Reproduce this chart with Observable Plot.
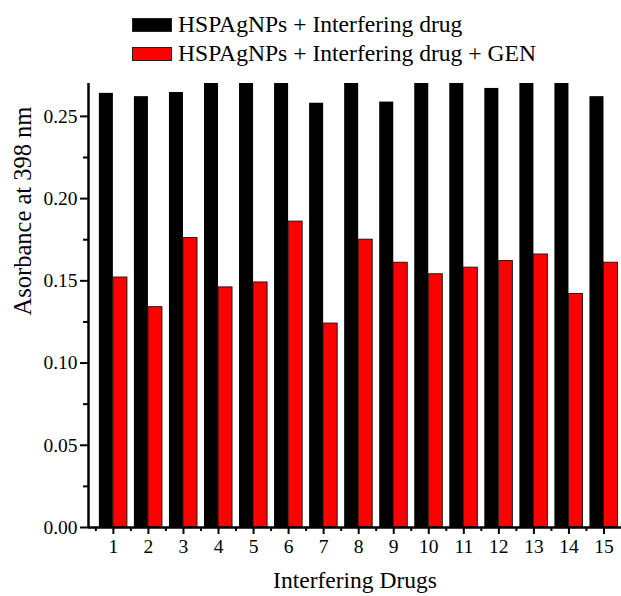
<!DOCTYPE html>
<html>
<head>
<meta charset="utf-8">
<script src="https://cdn.jsdelivr.net/npm/d3@7"></script>
<script src="https://cdn.jsdelivr.net/npm/@observablehq/plot@0.6"></script>
<style>
  html, body { margin: 0; padding: 0; background: white; }
  #legend { height: 70px; box-sizing: border-box; padding-top: 10px; padding-left: 132px;
            font-family: 'Liberation Serif', serif; font-size: 23.6px; color: black; }
  .row { height: 29px; display: flex; align-items: center; }
  .sw { width: 40px; height: 14px; margin-right: 6px; box-sizing: border-box; border: 1px solid #222; }
  #chart svg { display: block; }
</style>
</head>
<body>
<div id="legend"></div>
<div id="chart"></div>
<script>
const drugs = [1, 2, 3, 4, 5, 6, 7, 8, 9, 10, 11, 12, 13, 14, 15];
const drugSeries = [0.264, 0.262, 0.2645, 0.27, 0.27, 0.27, 0.258, 0.27, 0.2587, 0.27, 0.27, 0.267, 0.27, 0.27, 0.262];
const genSeries = [0.152, 0.134, 0.176, 0.146, 0.149, 0.186, 0.124, 0.175, 0.161, 0.154, 0.158, 0.162, 0.166, 0.142, 0.161];
const seriesNames = ["HSPAgNPs + Interfering drug", "HSPAgNPs + Interfering drug + GEN"];
const seriesColors = ["#000000", "#ff0000"];
const yTicks = [0, 0.05, 0.10, 0.15, 0.20, 0.25];
const yMinorTicks = [0.025, 0.075, 0.125, 0.175, 0.225];
const xMinorTicks = [0.5, 1.5, 2.5, 3.5, 4.5, 5.5, 6.5, 7.5, 8.5, 9.5, 10.5, 11.5, 12.5, 13.5, 14.5];
const xDomain = [0.29, 15.5];
const yDomain = [0, 0.27];
const xTitle = "Interfering Drugs";
const yTitle = "Asorbance at 398 nm";

const rows = drugs.map((d, i) => ({drug: d, v1: drugSeries[i], v2: genSeries[i]}));
const bw = 0.4;

// legend
const legend = document.getElementById("legend");
seriesNames.forEach((name, i) => {
  const r = document.createElement("div");
  r.className = "row";
  const sw = document.createElement("span");
  sw.className = "sw";
  sw.style.background = seriesColors[i];
  const t = document.createElement("span");
  t.textContent = name;
  r.appendChild(sw); r.appendChild(t);
  legend.appendChild(r);
});

const chart = Plot.plot({
  width: 621,
  height: 526,
  marginTop: 13,
  marginBottom: 69,
  marginLeft: 88,
  marginRight: 0,
  x: {type: "linear", domain: xDomain},
  y: {domain: yDomain},
  style: {fontFamily: "'Liberation Serif', serif", fontSize: "19.5px", color: "black", background: "white"},
  marks: [
    Plot.rectY(rows, {x1: d => d.drug - bw, x2: d => d.drug, y: "v1", fill: seriesColors[0]}),
    Plot.rectY(rows, {x1: d => d.drug, x2: d => d.drug + bw, y: "v2", fill: seriesColors[1], stroke: "#1a1a1a", strokeWidth: 1}),
    Plot.axisY(yTicks, {tickSize: 8, tickPadding: 3, tickFormat: ".2f", strokeWidth: 2, label: null}),
    Plot.axisY(yMinorTicks, {tickSize: 5, tickFormat: () => "", strokeWidth: 2, label: null}),
    Plot.axisX(drugs, {tickSize: 7, tickPadding: 5, strokeWidth: 2, label: null}),
    Plot.axisX(xMinorTicks, {tickSize: 4, tickFormat: () => "", strokeWidth: 2, label: null}),
    Plot.ruleY([yDomain[0]], {strokeWidth: 2.5}),
    Plot.ruleX([xDomain[0]], {strokeWidth: 2.5}),
    Plot.text([yTitle], {frameAnchor: "left", rotate: -90, dx: -65, dy: 10, fontSize: 24.5}),
    Plot.text([xTitle], {frameAnchor: "bottom", dy: 60, fontSize: 23.5})
  ]
});
document.getElementById("chart").appendChild(chart);
</script>
</body>
</html>
